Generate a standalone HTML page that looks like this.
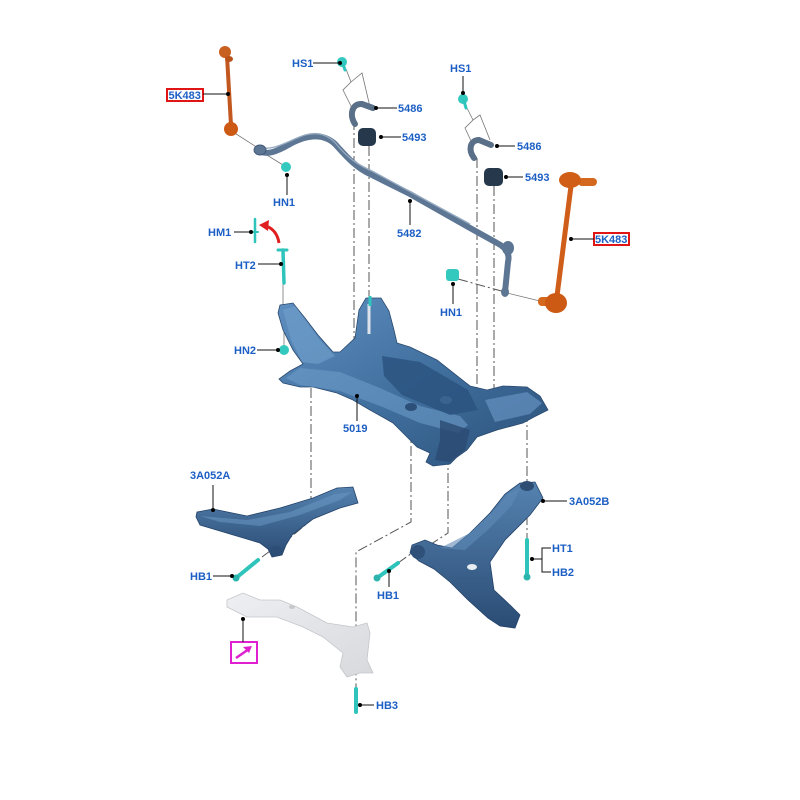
<!DOCTYPE html>
<html><head><meta charset="utf-8"><style>
html,body{margin:0;padding:0;background:#fff;width:800px;height:800px;overflow:hidden}
svg{display:block}
.t{font-family:"Liberation Sans",Arial,sans-serif;font-weight:bold;font-size:11px;fill:#1c5fc4}
.ld{stroke:#111;stroke-width:1;fill:none}
.dd{stroke:#555;stroke-width:1;fill:none;stroke-dasharray:10,3,2,3}
.thin{stroke:#777;stroke-width:0.8;fill:none}
.teal{stroke:#2fc4bb;fill:none;stroke-linecap:round}
</style></head><body>
<svg width="800" height="800" viewBox="0 0 800 800" xmlns="http://www.w3.org/2000/svg">
<defs>
<linearGradient id="sf" x1="0" y1="0" x2="1" y2="1">
<stop offset="0" stop-color="#5f8fc0"/><stop offset="0.5" stop-color="#41709f"/><stop offset="1" stop-color="#2b5079"/>
</linearGradient>
<linearGradient id="arm" x1="0" y1="0" x2="0" y2="1">
<stop offset="0" stop-color="#5582b0"/><stop offset="1" stop-color="#2a4c74"/>
</linearGradient>
<linearGradient id="sil" x1="0" y1="0" x2="1" y2="1">
<stop offset="0" stop-color="#eeeff2"/><stop offset="1" stop-color="#d8d9dd"/>
</linearGradient>
</defs>
<rect width="800" height="800" fill="#fff"/>

<!-- dash-dot lines -->
<path class="dd" d="M354,120 V352"/>
<path class="dd" d="M369,146 V335"/>
<path class="dd" d="M477,158 V412"/>
<path class="dd" d="M494,186 V397"/>
<path class="dd" d="M311,388 V520 L285,542"/>
<path class="dd" d="M270,551 L258,560"/>
<path class="dd" d="M411,428 V522 L356,552 V688"/>
<path class="dd" d="M448,455 V533 L425,548"/>
<path class="dd" d="M527,412 V482"/>
<path class="dd" d="M527,515 V540"/>
<path class="dd" d="M398,563 L412,553"/>
<path class="dd" d="M458,279 L505,292"/>

<!-- thin gray leaders / brackets -->
<path class="thin" d="M346,69 L351,82 L343,90 L352,108"/>
<path class="thin" d="M351,82 L362,73 L370,107"/>
<path class="thin" d="M467,108 L473,120 L465,128 L472,143"/>
<path class="thin" d="M473,120 L480,115 L490,140"/>
<path class="thin" d="M233,132 L258,148"/>
<path class="thin" d="M262,152 L283,165"/>
<path class="thin" d="M507,293 L540,301"/>
<path class="thin" d="M283,283 V306"/>
<path class="thin" d="M284,328 V345"/>

<!-- stabilizer bar -->
<path d="M258,150 C266,156 276,152 290,144 C305,136 322,132 335,144 C345,155 355,167 370,174 L410,194 L470,228 L497,243 Q511,250 508,262 L505,292" stroke="#5d7694" stroke-width="6" fill="none" stroke-linecap="round" stroke-linejoin="round"/>
<path d="M262,148 C276,150 290,140 305,135 C320,131 330,136 338,146 C348,158 358,165 372,171 L470,224" stroke="#95aac0" stroke-width="1.4" fill="none"/>
<ellipse cx="260" cy="150" rx="6" ry="5" fill="#5d7694" stroke="#44597a"/>
<ellipse cx="508" cy="248" rx="6" ry="7" fill="#5d7694"/>
<ellipse cx="505" cy="292" rx="4" ry="5" fill="#5d7694"/>

<!-- clips 5486 -->
<path d="M355,124 C349,115 352,103 362,104 L373,108" stroke="#5a6f88" stroke-width="6" fill="none" stroke-linecap="round"/>
<path d="M474,158 C468,150 470,140 479,140 L491,145" stroke="#5a6f88" stroke-width="6" fill="none" stroke-linecap="round"/>
<!-- bushings 5493 -->
<rect x="358" y="128" width="18" height="18" rx="5" fill="#26384c"/>
<rect x="484" y="168" width="19" height="18" rx="5" fill="#26384c"/>

<!-- orange links -->
<line x1="227" y1="56" x2="231" y2="125" stroke="#c2581f" stroke-width="4"/>
<ellipse cx="225" cy="52" rx="6" ry="6" fill="#c8601f"/>
<ellipse cx="229" cy="59" rx="4" ry="3" fill="#b8521a"/>
<ellipse cx="231" cy="129" rx="7" ry="7" fill="#cc5a15"/>
<line x1="571" y1="186" x2="557" y2="296" stroke="#cf5e1a" stroke-width="5"/>
<rect x="578" y="178" width="19" height="8" rx="4" fill="#d4681e"/>
<ellipse cx="570" cy="180" rx="11" ry="8" fill="#d15e16"/>
<rect x="538" y="297" width="14" height="9" rx="4" fill="#d4681e"/>
<ellipse cx="556" cy="303" rx="11" ry="10" fill="#cc5a14"/>

<!-- subframe -->
<path d="M280,305 L293,303 L305,318 L318,335 L333,352 L340,352 L355,338 L359,310 L366,298 L381,298 L389,311 L394,330 L397,343 L410,347 L437,360 L470,386 L487,390 L503,386 L527,387 L540,396 L548,410 L534,417 L523,423 L497,430 L477,437 L467,450 L457,457 L450,464 L433,466 L426,462 L430,453 L417,447 L403,433 L393,423 L370,410 L353,400 L337,393 L313,387 L300,387 L283,383 L279,379 L290,371 L303,364 L293,350 L283,330 L278,313 Z" fill="url(#sf)" stroke="#2a4a70" stroke-width="0.8"/>
<path d="M283,310 L295,306 L320,340 L335,356 L318,364 L302,362 L291,340 Z" fill="#6e9cc9" opacity="0.7"/>
<path d="M286,378 L300,368 L340,372 L380,388 L420,406 L460,416 L468,425 L458,433 L420,423 L380,406 L340,391 L300,385 Z" fill="#6d9bc8" opacity="0.6"/>
<path d="M382,356 L420,362 L468,390 L478,410 L450,415 L402,395 L384,376 Z" fill="#2c5480" opacity="0.85"/>
<path d="M440,420 L470,430 L465,450 L450,462 L435,460 L440,440 Z" fill="#2a4a72" opacity="0.8"/>
<path d="M485,400 L527,392 L542,403 L530,414 L495,422 Z" fill="#6592c0" opacity="0.7"/>
<ellipse cx="411" cy="407" rx="6" ry="4" fill="#2c4f78"/>
<ellipse cx="446" cy="400" rx="6" ry="4" fill="#3b6390"/>
<line x1="369" y1="304" x2="369" y2="334" stroke="#dde3ea" stroke-width="3"/>
<line x1="370" y1="296" x2="370" y2="306" stroke="#2fc4bb" stroke-width="3"/>

<!-- lower arm A -->
<path d="M197,512 L213,509 L247,516 L280,508 L313,498 L337,488 L353,487 L358,503 L340,508 L313,519 L292,535 L286,545 L282,555 L272,557 L268,549 L260,543 L230,534 L200,525 L196,517 Z" fill="url(#arm)" stroke="#24436a" stroke-width="0.8"/>
<path d="M200,516 L247,520 L290,512 L335,494 L352,492 L340,500 L300,515 L260,526 L220,522 Z" fill="#6a97c3" opacity="0.55"/>
<ellipse cx="276" cy="551" rx="6" ry="5" fill="#2c4d75"/>

<!-- lower arm B -->
<path d="M520,483 L535,482 L543,498 L530,515 L505,540 L490,562 L494,590 L510,605 L520,615 L515,628 L500,626 L488,618 L468,600 L450,582 L434,569 L419,561 L410,553 L412,545 L425,540 L437,545 L452,548 L470,533 L490,513 L505,494 Z" fill="url(#arm)" stroke="#24436a" stroke-width="0.8"/>
<path d="M440,548 L470,533 L492,512 L508,494 L520,488 L512,505 L490,528 L465,550 Z" fill="#5f8bb8" opacity="0.6"/>
<ellipse cx="472" cy="567" rx="5" ry="3" fill="#e7edf3"/>
<ellipse cx="527" cy="486" rx="7" ry="5" fill="#2d4d73"/>
<ellipse cx="418" cy="552" rx="7" ry="7" fill="#2e5079"/>

<!-- silver bracket -->
<path d="M227,600 L243,593 L260,600 L280,600 L297,607 L327,623 L353,627 L367,623 L370,633 L367,660 L373,673 L360,673 L347,677 L340,667 L343,653 L323,637 L303,627 L277,617 L247,617 L227,607 Z" fill="url(#sil)" stroke="#c4c6cb" stroke-width="0.8"/>
<ellipse cx="292" cy="607" rx="3" ry="2" fill="#c8c9cd"/>

<!-- teal fasteners -->
<circle cx="342" cy="62" r="5" fill="#34c9bf"/>
<line class="teal" x1="343" y1="64" x2="345" y2="70" stroke-width="3"/>
<circle cx="463" cy="99" r="5" fill="#34c9bf"/>
<line class="teal" x1="464" y1="101" x2="466" y2="108" stroke-width="3"/>
<circle cx="286" cy="167" r="5" fill="#34c9bf"/>
<rect x="446" y="269" width="13" height="12" rx="3" fill="#34c9bf"/>
<line class="teal" x1="255" y1="219" x2="255" y2="242" stroke-width="2.5"/>
<line class="teal" x1="252" y1="232" x2="258" y2="232" stroke-width="2"/>
<line class="teal" x1="278" y1="250" x2="287" y2="250" stroke-width="3"/>
<line class="teal" x1="283" y1="250" x2="284" y2="283" stroke-width="3.5"/>
<circle cx="284" cy="350" r="5" fill="#34c9bf"/>
<line class="teal" x1="236" y1="578" x2="258" y2="560" stroke-width="4"/>
<circle cx="236" cy="578" r="3.5" fill="#2cb5ad"/>
<line class="teal" x1="377" y1="578" x2="398" y2="563" stroke-width="4"/>
<circle cx="377" cy="578" r="3.5" fill="#2cb5ad"/>
<line class="teal" x1="527" y1="540" x2="527" y2="576" stroke-width="4"/>
<circle cx="527" cy="577" r="3.5" fill="#2cb5ad"/>
<line class="teal" x1="356" y1="689" x2="356" y2="712" stroke-width="4"/>

<!-- red arrow -->
<path d="M279,243 Q277,230 266,226" stroke="#e02020" stroke-width="3" fill="none"/>
<polygon points="259,225 269,220 268,231" fill="#e02020"/>

<!-- leaders and labels -->
<rect x="167" y="89" width="36" height="12" fill="#fff" stroke="#e01515" stroke-width="2"/>
<text class="t" x="168.5" y="99">5K483</text>
<path class="ld" d="M203,94 H228"/><circle cx="228" cy="94" r="2"/>

<text class="t" x="292" y="67">HS1</text>
<path class="ld" d="M313,63 H340"/><circle cx="340" cy="63" r="2"/>

<text class="t" x="398" y="112">5486</text>
<path class="ld" d="M376,108 H397"/><circle cx="376" cy="108" r="2"/>

<text class="t" x="402" y="141">5493</text>
<path class="ld" d="M381,137 H401"/><circle cx="381" cy="137" r="2"/>

<text class="t" x="273" y="206">HN1</text>
<path class="ld" d="M287,175 V195"/><circle cx="287" cy="175" r="2"/>

<text class="t" x="397" y="237">5482</text>
<path class="ld" d="M410,201 V225"/><circle cx="410" cy="201" r="2"/>

<text class="t" x="450" y="72">HS1</text>
<path class="ld" d="M463,76 V93"/><circle cx="463" cy="93" r="2"/>

<text class="t" x="517" y="150">5486</text>
<path class="ld" d="M497,146 H515"/><circle cx="497" cy="146" r="2"/>

<text class="t" x="525" y="181">5493</text>
<path class="ld" d="M506,177 H523"/><circle cx="506" cy="177" r="2"/>

<rect x="594" y="233" width="35" height="12" fill="#fff" stroke="#e01515" stroke-width="2"/>
<text class="t" x="595" y="243">5K483</text>
<path class="ld" d="M571,239 H594"/><circle cx="571" cy="239" r="2"/>

<text class="t" x="440" y="316">HN1</text>
<path class="ld" d="M453,284 V304"/><circle cx="453" cy="284" r="2"/>

<text class="t" x="208" y="236">HM1</text>
<path class="ld" d="M234,232 H251"/><circle cx="251" cy="232" r="2"/>

<text class="t" x="235" y="269">HT2</text>
<path class="ld" d="M258,264 H281"/><circle cx="281" cy="264" r="2"/>

<text class="t" x="234" y="354">HN2</text>
<path class="ld" d="M257,350 H278"/><circle cx="278" cy="350" r="2"/>

<text class="t" x="343" y="432">5019</text>
<path class="ld" d="M357,396 V421"/><circle cx="357" cy="396" r="2"/>

<text class="t" x="190" y="479">3A052A</text>
<path class="ld" d="M213,485 V510"/><circle cx="213" cy="510" r="2"/>

<text class="t" x="569" y="505">3A052B</text>
<path class="ld" d="M543,501 H567"/><circle cx="543" cy="501" r="2"/>

<text class="t" x="552" y="552">HT1</text>
<text class="t" x="552" y="576">HB2</text>
<path class="ld" d="M532,559 H542 M551,548 H542 V572 H551"/><circle cx="532" cy="559" r="2"/>

<text class="t" x="190" y="580">HB1</text>
<path class="ld" d="M213,576 H232"/><circle cx="232" cy="576" r="2"/>

<text class="t" x="377" y="599">HB1</text>
<path class="ld" d="M389,571 V587"/><circle cx="389" cy="571" r="2"/>

<rect x="231" y="642" width="26" height="21" fill="#fff" stroke="#e020d0" stroke-width="2"/>
<line x1="236" y1="658" x2="249" y2="649" stroke="#e020d0" stroke-width="2.5"/>
<polygon points="252,646 243,647 249,653" fill="#e020d0"/>
<path class="ld" d="M243,619 V642"/><circle cx="243" cy="619" r="2"/>

<text class="t" x="376" y="709">HB3</text>
<path class="ld" d="M360,705 H374"/><circle cx="360" cy="705" r="2"/>
</svg>
</body></html>
